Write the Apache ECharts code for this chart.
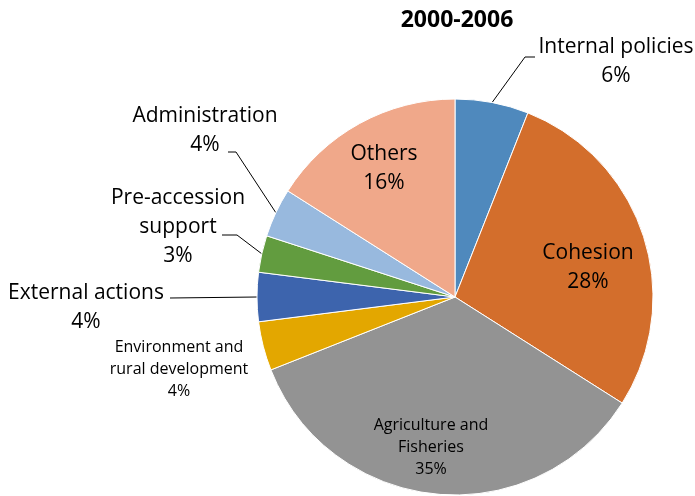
<!DOCTYPE html>
<html>
<head>
<meta charset="utf-8">
<script src="https://cdn.jsdelivr.net/npm/echarts@6/dist/echarts.min.js"></script>
<style>
  html, body { margin: 0; padding: 0; background: #fff; }
  #chart { width: 695px; height: 496px; }
</style>
</head>
<body>
<div id="chart"></div>
<script>
// data (clockwise from 12 o'clock)
const names = ['Internal policies', 'Cohesion', 'Agriculture and\nFisheries', 'Environment and\nrural development',
  'External actions', 'Pre-accession\nsupport', 'Administration', 'Others']
const values = [6, 28, 35, 4, 4, 3, 4, 16]
const colors = ['#4f89bd', '#d36e2c', '#939393', '#e3a700', '#3d64ad', '#629c3f', '#98b9de', '#f0a88a']

// where each label sits, and the bends of the leader lines
const spots = [
  { x: 616, y: 62, size: 21, line: [[525, 57], [535, 57]] },
  { x: 588, y: 268, size: 21, inside: true },
  { x: 431, y: 447, size: 16, inside: true },
  { x: 179, y: 369, size: 16 },
  { x: 86, y: 308, size: 21, line: [[170, 298], [170, 298]] },
  { x: 178, y: 227, size: 21, line: [[237, 235], [222, 235]] },
  { x: 205, y: 131, size: 21, line: [[236, 152], [228, 152]] },
  { x: 384, y: 169, size: 21, inside: true }
]

const font = '"Open Sans", Lato, sans-serif'
const myChart = echarts.init(document.getElementById('chart'))

const pieData = names.map((n, i) => ({
  name: n,
  value: values[i],
  itemStyle: { color: colors[i] },
  label: {
    position: spots[i].inside ? 'inside' : 'outside',
    fontSize: spots[i].size,
    lineHeight: spots[i].size === 16 ? 22 : 29
  },
  labelLine: { show: !!spots[i].line }
}))

myChart.setOption({
  animation: false,
  title: {
    text: '2000-2006',
    left: 452,
    top: 4,
    textAlign: 'center',
    textStyle: { fontSize: 23, fontWeight: 'bold', color: '#000', fontFamily: font }
  },
  series: [{
    type: 'pie',
    center: [455, 297],
    radius: 198,
    startAngle: 90,
    clockwise: true,
    avoidLabelOverlap: false,
    data: pieData,
    itemStyle: { borderColor: '#fff', borderWidth: 1 },
    label: {
      show: true,
      formatter: '{b}\n{d}%',
      color: '#000',
      fontFamily: font,
      align: 'center'
    },
    labelLine: {
      show: true,
      lineStyle: { color: '#000', width: 1 }
    },
    labelLayout: function (p) {
      const s = spots[p.dataIndex]
      const out = { x: s.x, y: s.y, align: 'center', verticalAlign: 'middle' }
      if (s.line && p.labelLinePoints) {
        out.labelLinePoints = [p.labelLinePoints[0], s.line[0], s.line[1]]
      }
      return out
    }
  }]
})
</script>
</body>
</html>
